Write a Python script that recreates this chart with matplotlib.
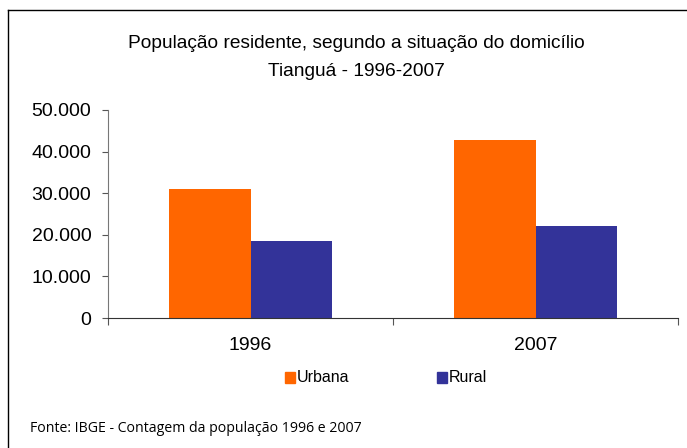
import numpy as np
import matplotlib.pyplot as plt
from matplotlib.lines import Line2D
from matplotlib.patches import Rectangle
from matplotlib.ticker import FuncFormatter

plt.rcParams['font.family'] = ['Liberation Sans', 'DejaVu Sans']

anos = ['1996', '2007']
urbana = [31000, 42800]
rural = [18500, 22100]
y_ticks = [0, 10000, 20000, 30000, 40000, 50000]

cor_urbana = '#FF6600'
cor_rural = '#333399'

fig = plt.figure(figsize=(6.87, 4.48), dpi=100)
W, H = 687, 448

# moldura (esquerda e topo)
fig.add_artist(Line2D([8 / W, 8 / W], [0, 1 - 10 / H], transform=fig.transFigure, color='black', lw=1))
fig.add_artist(Line2D([8 / W, 1], [1 - 10 / H, 1 - 10 / H], transform=fig.transFigure, color='black', lw=1))

ax = fig.add_axes([108 / W, 1 - 318 / H, (678 - 108) / W, (318 - 110) / H])
x = np.arange(len(anos))
w = 0.285
ax.bar(x - w / 2, urbana, w, color=cor_urbana, label='Urbana')
ax.bar(x + w / 2, rural, w, color=cor_rural, label='Rural')

ax.set_xlim(-0.5, 1.5)
ax.set_ylim(0, 50000)
ax.set_yticks(y_ticks)
ax.yaxis.set_major_formatter(FuncFormatter(lambda v, p: f'{int(v):,}'.replace(',', '.')))
ax.set_xticks([-0.5, 0.5, 1.5])
ax.set_xticklabels([])
ax.set_xticks(x, minor=True)
ax.set_xticklabels(anos, minor=True, fontsize=14)
ax.tick_params(axis='x', which='minor', length=0, pad=14)
ax.tick_params(axis='x', which='major', length=5, color='#555555')
ax.tick_params(axis='y', length=4, color='#555555', labelsize=14, pad=8)
for s in ['top', 'right']:
    ax.spines[s].set_visible(False)
ax.spines['left'].set_color('#777777')
ax.spines['bottom'].set_color('#333333')

fig.text(356 / W, 1 - 44 / H, 'População residente, segundo a situação do domicílio',
         ha='center', va='center', fontsize=13.8)
fig.text(356 / W, 1 - 71 / H, 'Tianguá - 1996-2007', ha='center', va='center', fontsize=13.8)

# legenda
for sx, txt, cor in [(285, 'Urbana', cor_urbana), (437, 'Rural', cor_rural)]:
    fig.add_artist(Rectangle((sx / W, 1 - 383 / H), 10 / W, 11 / H, transform=fig.transFigure,
                             color=cor))
    fig.text((sx + 12) / W, 1 - 377 / H, txt, ha='left', va='center', fontsize=11.5)

fig.text(30 / W, 1 - 428 / H, 'Fonte: IBGE - Contagem da população 1996 e 2007',
         ha='left', va='center', fontsize=10.2, family=['Open Sans', 'DejaVu Sans'])

fig.savefig('out.png', dpi=100)
